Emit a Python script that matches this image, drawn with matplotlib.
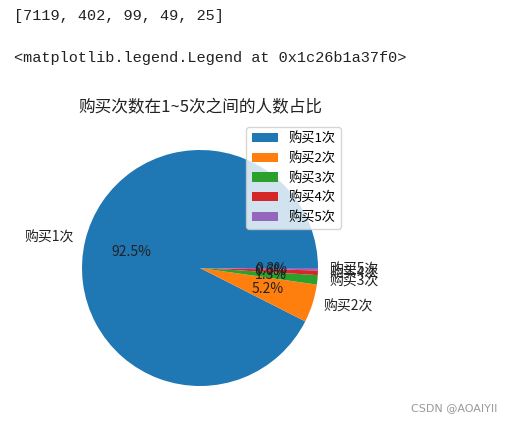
import matplotlib
matplotlib.use('Agg')
import matplotlib.pyplot as plt

plt.rcParams['font.family'] = ['Noto Sans CJK SC', 'DejaVu Sans']

# dati
counts = [7119, 402, 99, 49, 25]
labels = ['购买1次', '购买2次', '购买3次', '购买4次', '购买5次']
title = '购买次数在1~5次之间的人数占比'

fig = plt.figure(figsize=(5.12, 4.23), dpi=100)

# righe di output del notebook
fig.text(14 / 512, 1 - 16 / 423, str(counts), family='Liberation Mono',
         fontsize=11, color='#222222', va='center', ha='left')
fig.text(14 / 512, 1 - 58 / 423, '<matplotlib.legend.Legend at 0x1c26b1a37f0>',
         family='Liberation Mono', fontsize=11, color='#222222', va='center', ha='left')

# torta
ax = fig.add_axes([52.5 / 512, 1 - 415.5 / 423, 295 / 512, 295 / 423])
ax.pie(counts, labels=labels, autopct='%.1f%%',
       textprops={'fontsize': 10, 'color': '#222222'})
ax.set_title(title, fontsize=12, color='#222222')
ax.legend(loc='upper right', fontsize=9.5)

fig.text(497 / 512, 1 - 408 / 423, 'CSDN @AOAIYII', fontsize=8,
         color='#999999', ha='right', va='center', family='DejaVu Sans')

fig.savefig('out.png', dpi=100)
